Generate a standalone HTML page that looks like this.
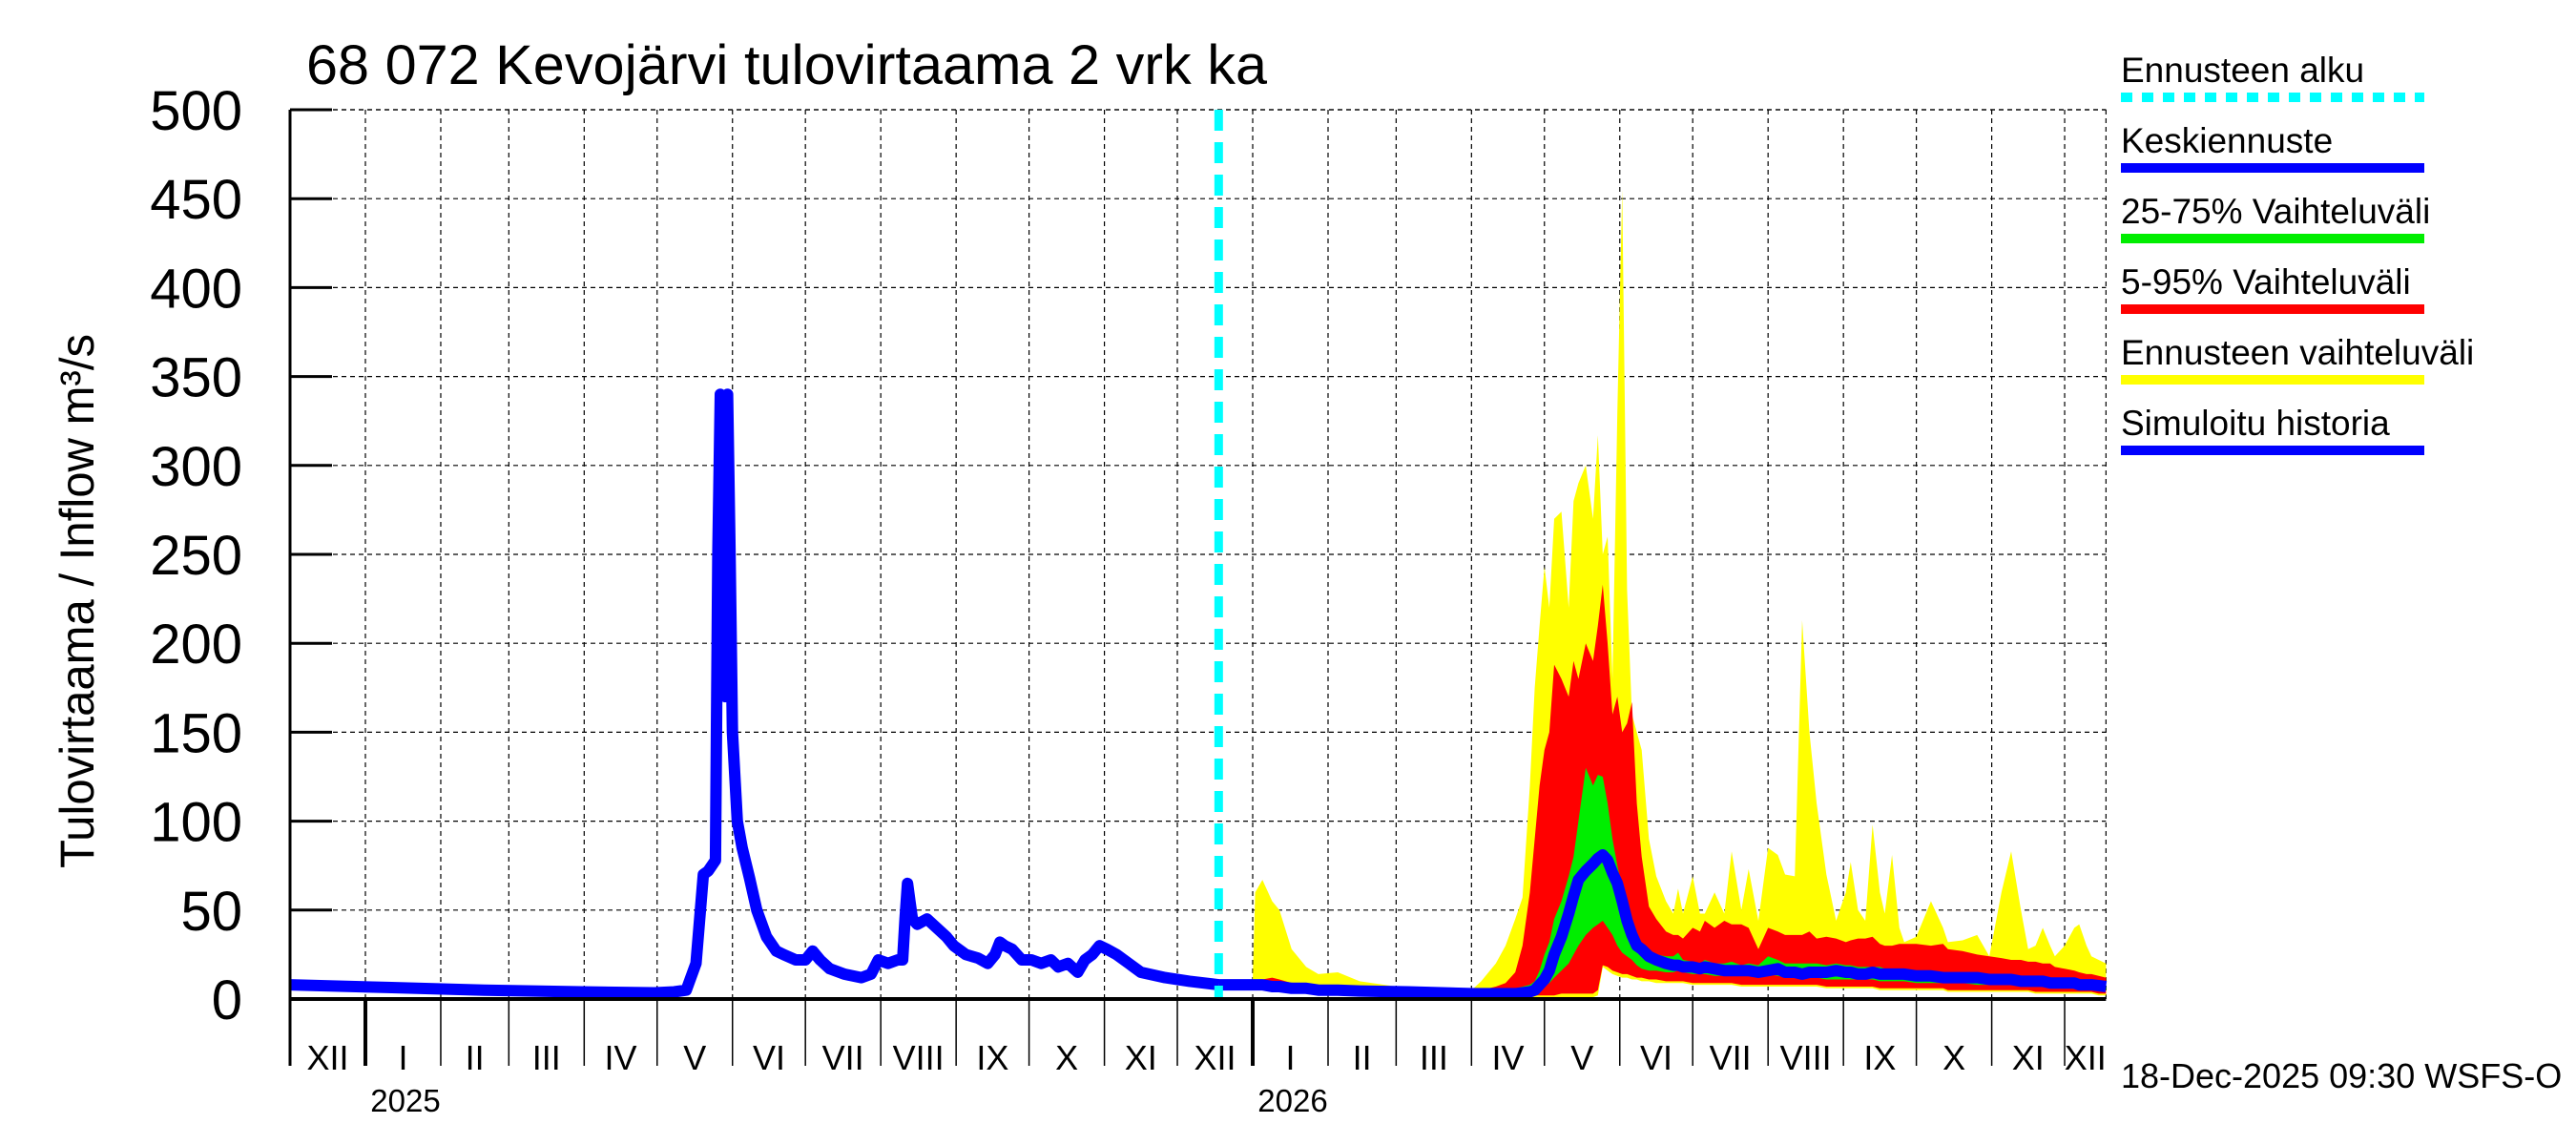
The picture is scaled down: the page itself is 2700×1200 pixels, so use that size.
<!DOCTYPE html>
<html><head><meta charset="utf-8">
<style>
html,body{margin:0;padding:0;background:#fff;}
svg{display:block;font-family:"Liberation Sans",sans-serif;}
</style></head>
<body>
<svg id="chart" width="2700" height="1200" viewBox="0 0 2700 1200" xmlns="http://www.w3.org/2000/svg">
<text x="321" y="88" font-size="58" textLength="1007" lengthAdjust="spacingAndGlyphs">68 072 Kevojärvi tulovirtaama 2 vrk ka</text>
<text transform="translate(98,630) rotate(-90)" text-anchor="middle" font-size="50" textLength="560" lengthAdjust="spacingAndGlyphs">Tulovirtaama / Inflow    m³/s</text>
<g id="grid"></g>
<g id="bands"></g>
<g id="lines"></g>
<g id="axes"></g>
<g id="legend"></g>
<text x="2223" y="1140" font-size="36">18-Dec-2025 09:30 WSFS-O</text>
</svg>
<script>
// x: days since 1 Dec 2024
const yTicks = [0,50,100,150,200,250,300,350,400,450,500];
const monthLabels = ["XII","I","II","III","IV","V","VI","VII","VIII","IX","X","XI","XII","I","II","III","IV","V","VI","VII","VIII","IX","X","XI","XII"];
const monthStarts = [0,31,62,90,121,151,182,212,243,274,304,335,365,396,427,455,486,516,547,577,608,639,669,700,730];
const yearLabels = ["2025","2026"];
const yearStarts = [31,396];
const forecastStart = 382;
const endDay = 747;

const histDays = [0,40,80,120,150,158,163,167,170,172,175,176,177,178,179,180,181,182,184,186,189,192,196,200,203,208,212,215,218,222,228,235,239,242,246,250,252,253,254,255,256,258,262,266,270,273,278,283,287,290,292,294,297,301,305,309,313,316,320,324,327,330,333,336,340,345,350,360,370,382];
const histVals = [8,6.5,5,4,3.5,4,5,20,70,72,78,250,340,300,170,340,250,150,100,85,68,50,35,27,25,22,22,27,22,17,14,12,14,22,20,22,22,45,65,55,45,42,45,40,35,30,25,23,20,25,32,30,28,22,22,20,22,18,20,15,22,25,30,28,25,20,15,12,10,8];

const fcDays = [382,396,397,400,404,407,412,418,423,431,440,460,486,490,496,500,504,507,510,512,514,516,518,520,523,526,528,530,533,536,538,540,542,544,546,548,550,552,554,556,559,562,566,569,571,573,577,580,582,586,590,593,597,600,604,608,612,615,619,622,625,628,632,636,640,642,645,648,651,654,656,659,662,664,669,675,680,682,688,694,699,704,708,712,715,718,721,724,726,730,734,736,739,741,744,747];
const yMax = [10,10,60,67,55,50,28,18,14,15,10,6,5,10,20,30,45,57,120,175,210,243,220,270,274,220,280,290,300,270,317,250,260,180,330,455,230,160,150,140,90,69,55,48,62,48,69,48,48,60,48,83,50,73,44,85,81,70,69,213,150,110,70,44,60,77,50,44,98,60,48,81,40,32,35,55,40,32,33,36,24,60,83,50,28,30,40,30,24,30,40,42,30,24,22,20];
const p95 = [8,8,9,11,12,11,9,8,7,6,5,5,4,5,7,9,15,30,60,90,120,140,150,188,180,170,190,180,200,190,210,233,200,160,170,150,155,167,110,80,52,45,38,36,36,34,40,38,44,40,44,42,42,40,28,40,38,36,36,36,38,34,35,34,32,33,34,34,35,31,30,30,31,31,31,30,31,28,27,25,24,23,22,22,21,21,20,20,18,17,16,15,14,14,13,12];
const p75 = [8,8,8,8,7,7,7,6,6,5,5,4,4,4,4,5,6,7,8,10,16,25,32,45,55,69,80,100,130,120,126,125,110,90,75,62,48,40,33,28,26,25,24,24,26,22,21,20,22,20,20,21,19,20,19,24,22,20,20,20,20,20,19,20,19,19,18,18,18,18,17,17,17,17,16,16,15,15,15,14,14,14,13,13,13,12,12,12,12,11,11,11,11,11,10,10];
const median = [8,8,8,8,7,7,6,6,5,5,4.5,4,3,3,3,3,3,3.5,4,5,8,11,16,25,35,48,58,67,72,76,79,81,78,71,65,55,44,36,30,28,24,22,20,19,19,18,18,17,18,17,16,16,16,16,15,16,17,15,15,14,15,15,15,16,15,15,14,14,15,14,14,14,14,14,13,13,12,12,12,12,11,11,11,10,10,10,10,9,9,9,9,8,8,8,7.5,7];
const p25 = [7,7,7,7,6,6,6,5,5,4.5,4,3.5,3,3,3,3,3,3,3.5,4,5,7,9,12,16,20,25,30,36,40,42,44,40,36,30,26,24,22,19,17,16,16,15,15,16,15,14,14,14,13,13,13,13,13,12,14,13,12,12,11,12,12,11,11,11,11,11,11,11,10,10,10,10,10,9,9,9,9,9,8,8,8,8,7,7,7,7,7,6,6,6,6,6,6,5,5];
const p5 = [7,6,6,6,6,5,5,5,4,4,3.5,3,2,2,2,2,2,2,2,2,2,2,2,2,3,3,3,3,3,3,5,19,18,16,15,14,14,13,12,12,11,11,10,10,10,10,9,9,9,9,9,9,8,8,8,8,8,8,8,8,8,8,7,7,7,7,7,7,7,6,6,6,6,6,6,6,6,5,5,5,5,5,5,5,5,4,4,4,4,4,4,4,4,4,3,3];
const yMin = [6,5,5,5,5,4,4,4,3,3,3,2,1,1,1,1,1,1,1,1,1,1,1,1,1,1,1,1,1,1,2,18,16,14,13,12,12,11,11,10,10,9,9,9,9,9,8,8,8,8,8,8,7,7,7,7,7,7,7,7,7,7,6,6,6,6,6,6,6,5,5,5,5,5,5,5,5,4,4,4,4,4,4,4,4,3,3,3,3,3,3,3,3,3,2,2];

const X0=304, PXD=2.548, Y0=1047, Y500=115;
function xs(d){return X0 + d*PXD;}
function ys(v){return Y0 - v*(Y0-Y500)/500;}
const NS="http://www.w3.org/2000/svg";
function mk(tag, attrs, parent){const e=document.createElementNS(NS,tag);for(const k in attrs)e.setAttribute(k,attrs[k]);parent.appendChild(e);return e;}

const grid=document.getElementById('grid');
const axes=document.getElementById('axes');
const bands=document.getElementById('bands');
const lines=document.getElementById('lines');
const legend=document.getElementById('legend');
const XEND = xs(endDay);

yTicks.forEach(v=>{
  const y=ys(v);
  if(v>0){
    const g=mk('line',{x1:X0,x2:XEND,y1:y,y2:y,stroke:'#000','stroke-width':1.2,'stroke-dasharray':'5,4'},grid);
    
    
    const t=mk('line',{x1:X0,x2:X0+44,y1:y,y2:y,stroke:'#000','stroke-width':3},axes);
    
    
  }
  const lb=mk('text',{x:254,y:y+21,'text-anchor':'end','font-size':58},axes);
  lb.textContent=v;
  
  
});
monthStarts.forEach((d,i)=>{
  const x=xs(d);
  if(i>0){
    const g=mk('line',{x1:x,x2:x,y1:Y500,y2:Y0,stroke:'#000','stroke-width':1.2,'stroke-dasharray':'5,4'},grid);
    
    
  }
  const isYear = yearStarts.includes(d);
  const t=mk('line',{x1:x,x2:x,y1:Y0,y2:1117,stroke:'#000','stroke-width':isYear?4:1.5},axes);
  
  
  const next = i+1<monthStarts.length ? monthStarts[i+1] : endDay;
  const lb=mk('text',{x:(x+xs(next))/2,y:1121,'text-anchor':'middle','font-size':36},axes);
  lb.textContent=monthLabels[i];
  
  
});
yearStarts.forEach((d,i)=>{
  const lb=mk('text',{x:xs(d)+42,y:1165,'text-anchor':'middle','font-size':33},axes);
  lb.textContent=yearLabels[i];
  
  
});
const rg=mk('line',{x1:XEND,x2:XEND,y1:Y500,y2:Y0,stroke:'#000','stroke-width':1.2,'stroke-dasharray':'5,4'},grid);


const tg=mk('line',{x1:X0,x2:XEND,y1:Y500,y2:Y500,stroke:'#000','stroke-width':1.2,'stroke-dasharray':'5,4'},grid);



function band(upper, lower, color, name){
  let pts=[];
  fcDays.forEach((d,i)=>pts.push(xs(d).toFixed(1)+','+ys(upper[i]).toFixed(1)));
  for(let i=fcDays.length-1;i>=0;i--) pts.push(xs(fcDays[i]).toFixed(1)+','+ys(lower[i]).toFixed(1));
  const p=mk('polygon',{points:pts.join(' '),fill:color},bands);
  
  
}
band(yMax,yMin,'#ffff00','forecast-range-band');
band(p95,p5,'#ff0000','band-5-95');
band(p75,p25,'#00ee00','band-25-75');

function line(days, vals, name){
  const pts=days.map((d,i)=>xs(d).toFixed(1)+','+ys(vals[i]).toFixed(1)).join(' ');
  const p=mk('polyline',{points:pts,fill:'none',stroke:'#0000ff','stroke-width':12,'stroke-linejoin':'round'},lines);
  
  
}
line(histDays,histVals,'simulated-history-line');
line(fcDays,median,'median-forecast-line');

const fl=mk('line',{x1:xs(forecastStart),x2:xs(forecastStart),y1:Y500,y2:Y0,stroke:'#00ffff','stroke-width':9,'stroke-dasharray':'22,12'},lines);



const ya=mk('line',{x1:X0,x2:X0,y1:Y500,y2:1117,stroke:'#000','stroke-width':3},axes);


const xa=mk('line',{x1:X0,x2:XEND,y1:Y0,y2:Y0,stroke:'#000','stroke-width':4},axes);



const legNames=["Ennusteen alku","Keskiennuste","25-75% Vaihteluväli","5-95% Vaihteluväli","Ennusteen vaihteluväli","Simuloitu historia"];
const legColors=["#00ffff","#0000ff","#00ee00","#ff0000","#ffff00","#0000ff"];
legNames.forEach((n,i)=>{
  const y=86+i*74;
  const t=mk('text',{x:2223,y:y,'font-size':37},legend);
  t.textContent=n;
  
  
  const l=mk('line',{x1:2223,x2:2541,y1:y+16,y2:y+16,stroke:legColors[i],'stroke-width':10},legend);
  if(i===0) l.setAttribute('stroke-dasharray','12,10');
  
  
});
</script>
</body></html>
